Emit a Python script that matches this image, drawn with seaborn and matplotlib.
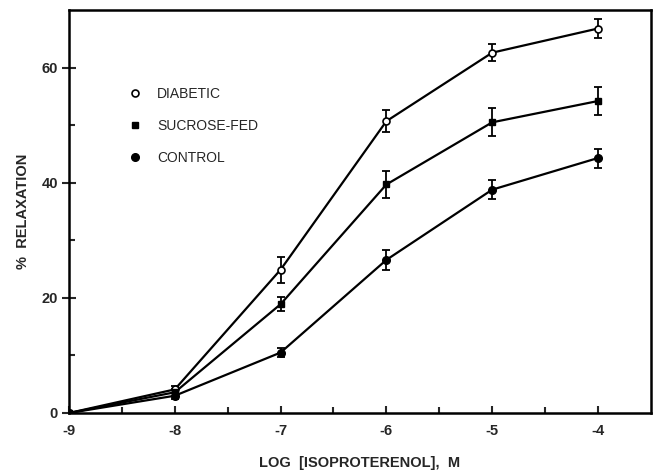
import matplotlib
matplotlib.use("Agg")
import matplotlib.pyplot as plt
from matplotlib.lines import Line2D
import seaborn as sns
import pandas as pd
import numpy as np

log_conc = [-9, -8, -7, -6, -5, -4]
diabetic = [0.0, 4.1, 24.9, 50.7, 62.6, 66.8]
diabetic_sem = [0.0, 0.6, 2.25, 1.95, 1.5, 1.7]
sucrose = [0.0, 3.6, 18.9, 39.7, 50.5, 54.2]
sucrose_sem = [0.0, 0.6, 1.25, 2.4, 2.45, 2.45]
control = [0.0, 3.0, 10.5, 26.6, 38.8, 44.3]
control_sem = [0.0, 0.5, 0.8, 1.8, 1.65, 1.65]
groups = ["DIABETIC", "SUCROSE-FED", "CONTROL"]
x_ticks = [-9, -8, -7, -6, -5, -4]
x_ticklabels = ["-9", "-8", "-7", "-6", "-5", "-4"]
y_ticks = [0, 20, 40, 60]

sns.set_style("ticks")
plt.rcParams["font.family"] = ["Liberation Sans", "DejaVu Sans"]

df = pd.DataFrame({
    "x": log_conc * 3,
    "y": diabetic + sucrose + control,
    "err": diabetic_sem + sucrose_sem + control_sem,
    "group": [groups[0]] * 6 + [groups[1]] * 6 + [groups[2]] * 6,
})

fig = plt.figure(figsize=(6.53, 4.74), dpi=100)
ax = fig.add_axes([0.1057, 0.1287, 0.891, 0.850])

sns.lineplot(data=df, x="x", y="y", hue="group", palette=["black"] * 3,
             linewidth=1.6, legend=False, ax=ax, estimator=None, sort=True)

styles = {
    "DIABETIC": dict(marker="o", mfc="white", mec="black", ms=5, mew=1.2),
    "SUCROSE-FED": dict(marker="s", mfc="black", mec="black", ms=5, mew=1),
    "CONTROL": dict(marker="o", mfc="black", mec="black", ms=5.5, mew=1),
}
for g in groups:
    sub = df[df["group"] == g]
    ax.errorbar(sub["x"], sub["y"], yerr=sub["err"], fmt="none", ecolor="black",
                elinewidth=1.3, capsize=3, capthick=1.3, zorder=3)
    ax.plot(sub["x"], sub["y"], linestyle="none", zorder=4, **styles[g])

ax.set_xlim(-9, -3.5)
ax.set_ylim(0, 70)
ax.set_xticks(x_ticks)
ax.set_xticklabels(x_ticklabels, fontsize=10.5, fontweight="bold")
ax.set_xticks([-8.5, -7.5, -6.5, -5.5, -4.5], minor=True)
ax.set_yticks(y_ticks)
ax.set_yticklabels([str(v) for v in y_ticks], fontsize=10.5, fontweight="bold")
ax.set_yticks([10, 30, 50], minor=True)
ax.tick_params(axis="x", which="major", direction="in", length=5, width=1.5, pad=8)
ax.tick_params(axis="x", which="minor", direction="in", length=4, width=1.5)
ax.tick_params(axis="y", which="major", direction="inout", length=10, width=1.5, pad=3)
ax.tick_params(axis="y", which="minor", direction="in", length=4, width=1.5)
for s in ax.spines.values():
    s.set_linewidth(1.8)
    s.set_color("black")

ax.set_xlabel("LOG  [ISOPROTERENOL],  M", fontsize=10.5, fontweight="bold", labelpad=13)
ax.set_ylabel("%  RELAXATION", fontsize=10.5, fontweight="bold", labelpad=8)

handles = [Line2D([], [], linestyle="none", **styles[g]) for g in groups]
ax.legend(handles, groups, loc="upper left", bbox_to_anchor=(0.08, 0.84),
          frameon=False, fontsize=10, labelspacing=1.3, handletextpad=1.1,
          handlelength=1.0)

fig.savefig("out.png", dpi=100)
